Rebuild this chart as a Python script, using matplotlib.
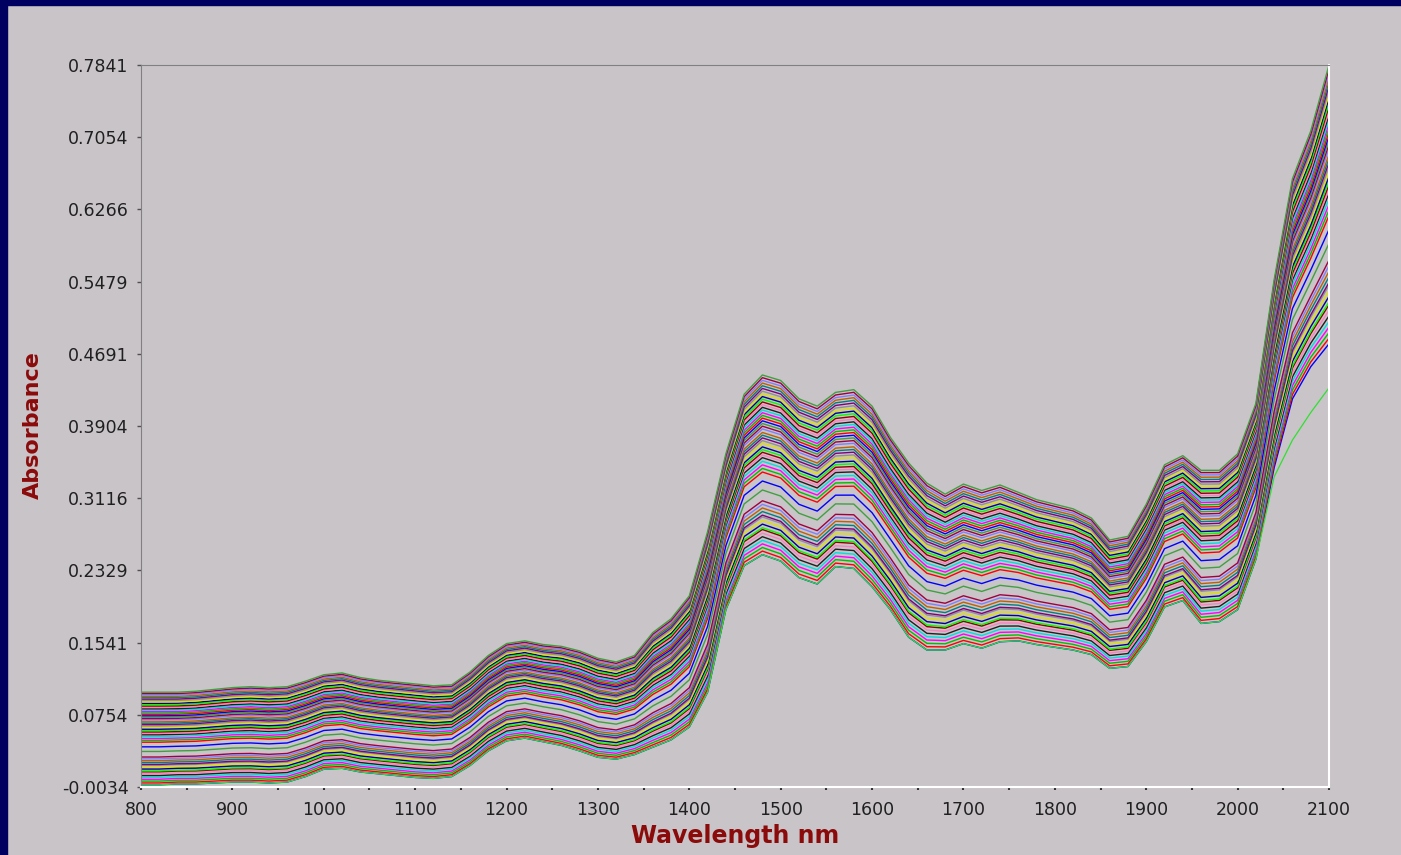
#!/usr/bin/env python

import matplotlib
matplotlib.use('Agg')
import matplotlib.pyplot as plt
import numpy as np
from matplotlib.patches import Rectangle

# wavelength grid (nm) and the envelope of the spectra
wavelength = list(range(800, 2101, 20))

upper = [0.100, 0.100, 0.100, 0.101, 0.103, 0.105, 0.106, 0.105, 0.106, 0.112,
         0.119, 0.121, 0.116, 0.113, 0.111, 0.109, 0.107, 0.108, 0.122, 0.140,
         0.153, 0.156, 0.152, 0.150, 0.145, 0.137, 0.133, 0.140, 0.165, 0.180,
         0.205, 0.275, 0.360, 0.425, 0.446, 0.440, 0.420, 0.412, 0.427, 0.430,
         0.412, 0.378, 0.350, 0.328, 0.316, 0.327, 0.320, 0.326, 0.318, 0.310,
         0.305, 0.300, 0.290, 0.266, 0.270, 0.305, 0.348, 0.358, 0.342, 0.342,
         0.360, 0.415, 0.550, 0.660, 0.712, 0.784]

lower = [-0.001, -0.001, 0.000, 0.000, 0.001, 0.002, 0.002, 0.001, 0.002, 0.008,
         0.016, 0.017, 0.013, 0.011, 0.009, 0.007, 0.006, 0.008, 0.020, 0.036,
         0.047, 0.050, 0.046, 0.042, 0.036, 0.029, 0.027, 0.032, 0.040, 0.048,
         0.062, 0.100, 0.190, 0.238, 0.250, 0.243, 0.225, 0.218, 0.237, 0.235,
         0.215, 0.190, 0.160, 0.146, 0.146, 0.153, 0.148, 0.155, 0.156, 0.152,
         0.149, 0.146, 0.141, 0.126, 0.128, 0.155, 0.193, 0.200, 0.175, 0.177,
         0.190, 0.245, 0.345, 0.420, 0.455, 0.480]

# relative level of each sample between the lower and upper envelope
levels = [0.00, 0.02, 0.04, 0.06, 0.08, 0.10, 0.12, 0.14, 0.15, 0.17,
          0.19, 0.21, 0.22, 0.24, 0.26, 0.28, 0.30,
          0.36, 0.41,
          0.46, 0.48, 0.50, 0.52, 0.54, 0.555, 0.57, 0.585, 0.60, 0.62,
          0.635, 0.65, 0.665, 0.68, 0.70, 0.715, 0.73, 0.745, 0.76, 0.775,
          0.79, 0.805, 0.82, 0.835, 0.85, 0.865, 0.88, 0.895, 0.91, 0.925,
          0.94, 0.955, 0.97, 0.985, 1.00]

# the one green sample that leaves the bundle at the long end
outlier_w = [2040, 2060, 2080, 2100]
outlier_tail = [0.335, 0.375, 0.405, 0.432]

yticks = [-0.0034, 0.0754, 0.1541, 0.2329, 0.3116, 0.3904,
          0.4691, 0.5479, 0.6266, 0.7054, 0.7841]
ytick_labels = ['-0.0034', '0.0754', '0.1541', '0.2329', '0.3116', '0.3904',
                '0.4691', '0.5479', '0.6266', '0.7054', '0.7841']
xticks = list(range(800, 2101, 100))

palette = ['#0000ff', '#ff0000', '#00c000', '#ff00ff', '#00e0e0', '#202020',
           '#ff80c0', '#900000', '#00ff00', '#000090', '#e0e000', '#909090',
           '#800080', '#008080', '#c06000', '#8080ff', '#a00040', '#40a040']


def main():
    W, H = 1401, 855
    fig = plt.figure(figsize=(W / 100, H / 100), dpi=100)
    fig.patch.set_facecolor('#c8c4c8')
    # navy frame strips
    fig.patches.append(Rectangle((0, 0), 7 / W, 1, transform=fig.transFigure,
                                 color='#000060', zorder=0))
    fig.patches.append(Rectangle((0, 1 - 5 / H), 1, 5 / H, transform=fig.transFigure,
                                 color='#000060', zorder=0))

    ax = fig.add_axes([141 / W, 1 - 787 / H, (1329 - 141) / W, (787 - 65) / H])
    ax.set_facecolor('#c8c4c8')

    x = np.array(wavelength)
    lo = np.array(lower)
    hi = np.array(upper)
    for i, t in enumerate(levels):
        ax.plot(x, lo + t * (hi - lo), color=palette[i % len(palette)], lw=1.0)

    # outlier: bottom of the bundle, then its own tail
    xo = [w for w in wavelength if w < outlier_w[0]] + outlier_w
    yo = [v for w, v in zip(wavelength, lower) if w < outlier_w[0]] + outlier_tail
    ax.plot(xo, yo, color='#30e030', lw=0.9)

    ax.set_xlim(800, 2100)
    ax.set_ylim(-0.0034, 0.7841)

    ax.set_yticks(yticks)
    ax.set_yticklabels(ytick_labels)
    ax.set_xticks(xticks)
    ax.set_xticks(list(range(850, 2100, 100)), minor=True)

    ax.tick_params(axis='y', length=3, width=1, color='#505050', pad=6,
                   labelsize=12.5, labelcolor='#202020')
    ax.tick_params(axis='x', which='both', length=2, width=1.5, color='#303030',
                   pad=8, labelsize=12.5, labelcolor='#202020')

    for s in ('left', 'top'):
        ax.spines[s].set_color('#808080')
    for s in ('right', 'bottom'):
        ax.spines[s].set_color('#ffffff')
        ax.spines[s].set_linewidth(1.5)

    fig.text(735 / W, 1 - 836 / H, 'Wavelength nm', ha='center', va='center',
             fontsize=17, fontweight='bold', color='#8b0a0a')
    fig.text(33 / W, 1 - 425 / H, 'Absorbance', ha='center', va='center',
             rotation=90, fontsize=16, fontweight='bold', color='#8b0a0a')

    fig.savefig('out.png', dpi=100, facecolor=fig.get_facecolor())


if __name__ == '__main__':
    main()
